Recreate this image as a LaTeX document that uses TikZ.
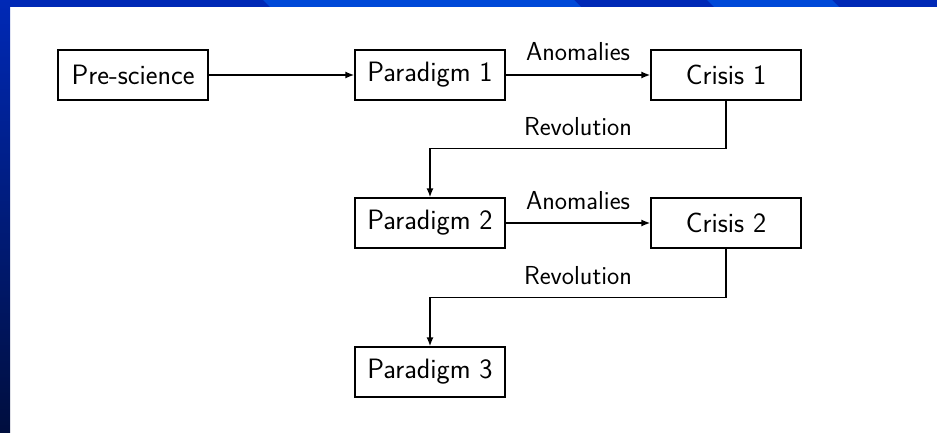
\documentclass[tikz,border=0pt]{standalone}
\usetikzlibrary{arrows.meta,calc}
\definecolor{frameblue}{HTML}{0029B6}
\definecolor{lightblue}{HTML}{0049D8}
\definecolor{navy}{HTML}{000E3E}
\begin{document}
\begin{tikzpicture}[x=1pt,y=-1pt,
  box/.style={draw=black, line width=1.4pt, rectangle, minimum width=150pt, minimum height=50pt,
    inner sep=0pt, font=\fontsize{28}{32}\selectfont\sffamily},
  lbl/.style={font=\fontsize{26}{30}\selectfont\sffamily, inner sep=0pt, anchor=center},
  arr/.style={draw=black, line width=1.4pt, -{Latex[length=9pt,width=7pt]}}]
\useasboundingbox (0,0) rectangle (937,433);
\fill[white] (0,0) rectangle (937,433);
% frame
\fill[frameblue] (0,0) rectangle (937,7);
\fill[lightblue] (263,0) -- (574,0) -- (581,7) -- (270,7) -- cycle;
\fill[lightblue] (707,0) -- (832,0) -- (839,7) -- (714,7) -- cycle;
\shade[top color=frameblue, bottom color=navy] (0,0) rectangle (10,433);
% nodes
\node[box] (pre) at (133,75) {Pre-science};
\node[box] (p1) at (430,75) {Paradigm 1};
\node[box] (c1) at (726,75) {Crisis 1};
\node[box] (p2) at (430,223) {Paradigm 2};
\node[box] (c2) at (726,223) {Crisis 2};
\node[box] (p3) at (430,372) {Paradigm 3};
% connectors
\draw[arr] (pre) -- (p1);
\draw[arr] (p1) -- node[lbl, yshift=23pt] {Anomalies} (c1);
\draw[arr] (c1.south) -- ++(0,48) coordinate (k1) -- (k1 -| p2.north)
  node[lbl, midway, yshift=22pt] {Revolution} -- (p2.north);
\draw[arr] (p2) -- node[lbl, yshift=22pt] {Anomalies} (c2);
\draw[arr] (c2.south) -- ++(0,49) coordinate (k2) -- (k2 -| p3.north)
  node[lbl, midway, yshift=22pt] {Revolution} -- (p3.north);
\end{tikzpicture}
\end{document}
